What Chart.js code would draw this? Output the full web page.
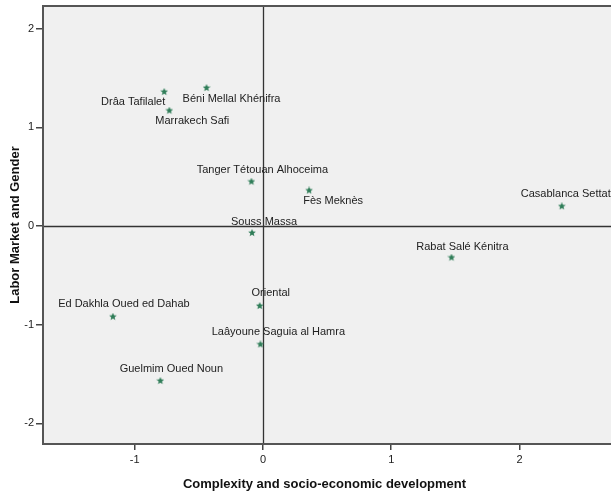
<!DOCTYPE html>
<html>
<head>
<meta charset="utf-8">
<script src="https://cdn.jsdelivr.net/npm/chart.js@4"></script>
<style>
  html, body { margin: 0; padding: 0; background: #ffffff; }
  #wrap { width: 611px; height: 495px; }
</style>
</head>
<body>
<div id="wrap"><canvas id="chart" width="611" height="495"></canvas></div>
<script>
// Regions of Morocco scored on two factors
const regions = [
  'Drâa Tafilalet', 'Béni Mellal Khénifra', 'Marrakech Safi',
  'Tanger Tétouan Alhoceima', 'Fès Meknès', 'Souss Massa',
  'Casablanca Settat', 'Rabat Salé Kénitra', 'Ed Dakhla Oued ed Dahab',
  'Oriental', 'Laâyoune Saguia al Hamra', 'Guelmim Oued Noun'
];
// Factor 1: complexity and socio-economic development
const complexityScores = [-0.77, -0.44, -0.73, -0.09, 0.36, -0.085, 2.33, 1.47, -1.17, -0.025, -0.02, -0.80];
// Factor 2: labor market and gender
const laborGenderScores = [1.36, 1.40, 1.17, 0.45, 0.36, -0.07, 0.20, -0.32, -0.92, -0.81, -1.20, -1.57];

const xTickValues = [-1, 0, 1, 2];
const yTickValues = [-2, -1, 0, 1, 2];

// Label placement relative to each marker, in pixels (centre of text)
const labelOffsets = [
  [-31, 10], [25, 11], [23, 10], [11, -12], [24, 10], [12, -11],
  [4, -12], [11, -11], [11, -13], [11, -13], [18, -12], [11, -12]
];

const MARK_COLOR = '#2f7d58';
const FRAME_COLOR = '#555555';
const TEXT_COLOR = '#222222';
const FONT = '"Liberation Sans", Arial, sans-serif';

// Small filled five-point star used as the point marker
function makeStar(size, color) {
  const c = document.createElement('canvas');
  c.width = size; c.height = size;
  const g = c.getContext('2d');
  const cx = size / 2, cy = size / 2, R = size / 2, r = R * 0.45;
  g.beginPath();
  for (let i = 0; i < 10; i++) {
    const rad = i % 2 === 0 ? R : r;
    const a = -Math.PI / 2 + i * Math.PI / 5;
    const px = cx + rad * Math.cos(a), py = cy + rad * Math.sin(a);
    if (i === 0) g.moveTo(px, py); else g.lineTo(px, py);
  }
  g.closePath();
  g.fillStyle = color;
  g.fill();
  return c;
}
const star = makeStar(8, MARK_COLOR);

const points = regions.map((name, i) => ({ x: complexityScores[i], y: laborGenderScores[i] }));

// Plot background, frame, zero reference lines and point labels
const framePlugin = {
  id: 'frame',
  beforeDatasetsDraw(chart) {
    const { ctx, chartArea: a, scales } = chart;
    ctx.save();
    ctx.strokeStyle = '#333333';
    ctx.lineWidth = 1.3;
    const x0 = scales.x.getPixelForValue(0);
    const y0 = scales.y.getPixelForValue(0);
    ctx.beginPath();
    ctx.moveTo(Math.round(x0) + 0.5, a.top);
    ctx.lineTo(Math.round(x0) + 0.5, a.bottom);
    ctx.moveTo(a.left, Math.round(y0) + 0.5);
    ctx.lineTo(chart.width, Math.round(y0) + 0.5);
    ctx.stroke();
    ctx.restore();
  },
  beforeDraw(chart) {
    const { ctx, chartArea: a } = chart;
    ctx.save();
    ctx.fillStyle = '#f0f0f0';
    ctx.fillRect(a.left, a.top, chart.width - a.left, a.bottom - a.top);
    ctx.restore();
  },
  afterDraw(chart) {
    const { ctx, chartArea: a } = chart;
    ctx.save();
    ctx.strokeStyle = FRAME_COLOR;
    ctx.lineWidth = 2;
    // frame runs past the right edge of the canvas
    ctx.strokeRect(a.left, a.top, chart.width - a.left + 10, a.bottom - a.top);
    // labels
    const meta = chart.getDatasetMeta(0);
    ctx.font = '11px ' + FONT;
    ctx.fillStyle = TEXT_COLOR;
    ctx.textAlign = 'center';
    ctx.textBaseline = 'middle';
    meta.data.forEach((el, i) => {
      const [dx, dy] = labelOffsets[i];
      ctx.fillText(regions[i], el.x + dx, el.y + dy);
    });
    ctx.restore();
  }
};

new Chart(document.getElementById('chart'), {
  type: 'scatter',
  data: {
    datasets: [{
      data: points,
      pointStyle: star,
      pointRadius: 4,
      pointHoverRadius: 4
    }]
  },
  options: {
    responsive: false,
    animation: false,
    layout: { padding: { top: 6, right: 0, left: 0, bottom: 0 } },
    plugins: { legend: { display: false }, tooltip: { enabled: false } },
    scales: {
      x: {
        type: 'linear',
        min: -1.715,
        max: 2.675,
        afterBuildTicks(scale) { scale.ticks = xTickValues.map(v => ({ value: v })); },
        afterFit(scale) { scale.height = 51; scale.paddingLeft = 0; scale.paddingRight = 0; },
        grid: { display: true, drawOnChartArea: false, drawTicks: true, tickLength: 6, color: '#444444', lineWidth: 1.5 },
        border: { display: false },
        ticks: { color: TEXT_COLOR, font: { family: FONT, size: 11 }, padding: 3, maxRotation: 0 },
        title: {
          display: true,
          text: 'Complexity and socio-economic development',
          color: '#111111',
          font: { family: FONT, size: 13, weight: 'bold' },
          padding: { top: 6, bottom: 3 }
        }
      },
      y: {
        type: 'linear',
        min: -2.21,
        max: 2.23,
        afterBuildTicks(scale) { scale.ticks = yTickValues.map(v => ({ value: v })); },
        afterFit(scale) { scale.width = 43; scale.paddingTop = 0; scale.paddingBottom = 0; },
        grid: { display: true, drawOnChartArea: false, drawTicks: true, tickLength: 7, color: '#444444', lineWidth: 1.5 },
        border: { display: false },
        ticks: { color: TEXT_COLOR, font: { family: FONT, size: 11 }, padding: 2 },
        title: {
          display: true,
          text: 'Labor Market and Gender',
          color: '#111111',
          font: { family: FONT, size: 13, weight: 'bold' },
          padding: { top: 8, bottom: 4 }
        }
      }
    }
  },
  plugins: [framePlugin]
});
</script>
</body>
</html>
